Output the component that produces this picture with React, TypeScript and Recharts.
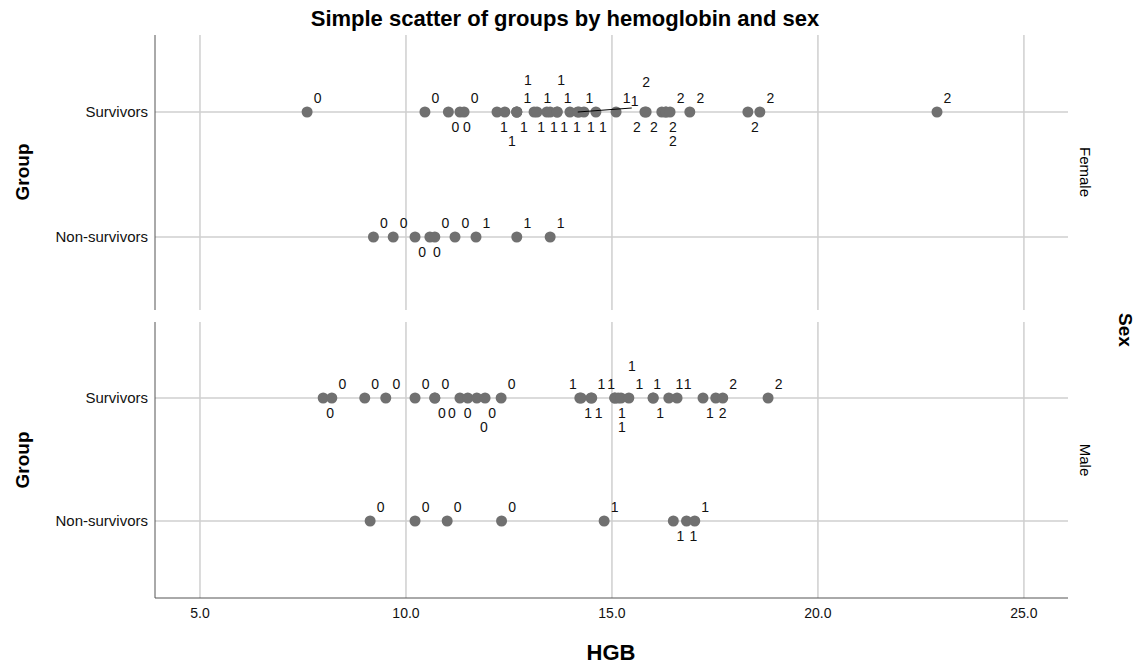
import React from 'react';
import { ScatterChart, Scatter, XAxis, YAxis, CartesianGrid } from 'recharts';

// y categories: 0 = Non-survivors, 1 = Survivors
const groupNames = ['Non-survivors', 'Survivors'];
const hgbTicks = [5, 10, 15, 20, 25];

// Female / Survivors
const femaleSurvivorsHgb = [
    7.6, 10.46, 11.03, 11.31, 11.41,
    12.21, 12.4, 12.69, 12.69, 12.69, 13.11, 13.18, 13.42, 13.5, 13.67, 13.67, 13.98, 14.2, 14.32, 14.61, 15.1, 14.17,
    15.8, 15.83, 16.21, 16.31, 16.31, 16.41, 16.89, 18.3, 18.59, 22.89,
];
const femaleSurvivorsCode = [
    0, 0, 0, 0, 0,
    1, 1, 1, 1, 1, 1, 1, 1, 1, 1, 1, 1, 1, 1, 1, 1, 1,
    2, 2, 2, 2, 2, 2, 2, 2, 2, 2,
];

// Female / Non-survivors
const femaleNonSurvivorsHgb = [9.21, 9.69, 10.22, 10.58, 10.7, 11.19, 11.7, 12.69, 13.5];
const femaleNonSurvivorsCode = [0, 0, 0, 0, 0, 0, 1, 1, 1];

// Male / Survivors
const maleSurvivorsHgb = [
    7.99, 8.2, 9.0, 9.51, 10.22, 10.7, 10.7, 11.31, 11.5, 11.72, 11.92, 12.31,
    14.22, 14.25, 14.49, 14.51, 15.15, 15.07, 15.07, 15.22, 15.41, 16.0, 16.0, 16.38, 16.58, 17.21,
    17.52, 17.69, 18.79,
];
const maleSurvivorsCode = [
    0, 0, 0, 0, 0, 0, 0, 0, 0, 0, 0, 0,
    1, 1, 1, 1, 1, 1, 1, 1, 1, 1, 1, 1, 1, 1,
    2, 2, 2,
];

// Male / Non-survivors
const maleNonSurvivorsHgb = [9.13, 10.22, 11.0, 12.32, 14.81, 16.49, 16.81, 17.01];
const maleNonSurvivorsCode = [0, 0, 0, 0, 1, 1, 1, 1];

// where each point label sits relative to its dot (SPSS label placement)
const femaleSurvivorsSlot = [
    'ne', 'ne', 'se', 'se', 'ne',
    'se', 'se2', 'se', 'ne', 'ne2', 'se', 'ne', 'se', 'ne2', 'se', 'ne', 'se', 'ne', 'se', 'se', 'ne', 'far',
    'sw', 'n2', 'sw', 'se', 'se2', 'ne', 'ne', 'se', 'ne', 'ne',
];
const femaleNonSurvivorsSlot = ['ne', 'ne', 'se', 'se', 'ne', 'ne', 'ne', 'ne', 'ne'];
const maleSurvivorsSlot = [
    'se', 'ne', 'ne', 'ne', 'ne', 'ne', 'se', 'sw', 's', 'se2', 'se', 'ne',
    'nw', 'se', 'ne', 'se', 'nw', 'se', 'se2', 'ne2', 'ne', 'se', 'n', 'ne', 'ne', 'se',
    'se', 'ne', 'ne',
];
const maleNonSurvivorsSlot = ['ne', 'ne', 'ne', 'ne', 'ne', 'se', 'se', 'ne'];

const SLOT_OFFSET: Record<string, [number, number]> = {
    ne: [10.5, -14],
    n: [4, -14],
    nw: [-7, -14],
    se: [7, 15],
    s: [0, 15],
    sw: [-8, 15],
    se2: [7, 29],
    ne2: [11, -32],
    n2: [0, -30],
    far: [57, -11],
};

const FONT = '"Liberation Sans", Arial, sans-serif';
const DOT = '#707070';
const GRID = '#cfcfcf';
const AXIS = '#555';

const rows = (hgb: number[], codes: number[], slots: string[], group: number) =>
    hgb.map((v, i) => ({ hgb: v, group, code: codes[i], slot: slots[i] }));

const femaleData = [
    ...rows(femaleSurvivorsHgb, femaleSurvivorsCode, femaleSurvivorsSlot, 1),
    ...rows(femaleNonSurvivorsHgb, femaleNonSurvivorsCode, femaleNonSurvivorsSlot, 0),
];
const maleData = [
    ...rows(maleSurvivorsHgb, maleSurvivorsCode, maleSurvivorsSlot, 1),
    ...rows(maleNonSurvivorsHgb, maleNonSurvivorsCode, maleNonSurvivorsSlot, 0),
];

const LabeledDot = (props: any) => {
    const { cx, cy, payload } = props;
    if (cx == null || cy == null) return null;
    const [dx, dy] = SLOT_OFFSET[payload.slot] || SLOT_OFFSET.ne;
    return (
        <g>
            <circle cx={cx} cy={cy} r={5.5} fill={DOT} />
            {payload.slot === 'far' && (
                <line x1={cx} y1={cy} x2={cx + dx - 3} y2={cy - 4} stroke="#000" strokeWidth={1} />
            )}
            <text
                x={cx + dx}
                y={cy + dy}
                textAnchor="middle"
                dominantBaseline="central"
                fontSize={14}
                fontFamily={FONT}
                fill="#111"
            >
                {payload.code}
            </text>
        </g>
    );
};

const Panel = ({ data, top, height, margin, yDomain, showX }: any) => (
    <div style={{ position: 'absolute', left: 0, top }}>
        <ScatterChart width={1142} height={height} margin={margin}>
            <CartesianGrid stroke={GRID} strokeWidth={1.5} horizontalValues={[0, 1]} verticalValues={hgbTicks} />
            <XAxis
                type="number"
                dataKey="hgb"
                domain={[3.908, 26.07]}
                allowDataOverflow
                ticks={hgbTicks}
                hide={!showX}
                height={30}
                tickLine={false}
                tickMargin={4}
                axisLine={{ stroke: AXIS }}
                tick={{ fontSize: 14, fill: '#111', fontFamily: FONT }}
                tickFormatter={(v) => v.toFixed(1)}
            />
            <YAxis
                type="number"
                dataKey="group"
                domain={yDomain}
                allowDataOverflow
                ticks={[0, 1]}
                width={155}
                tickLine={false}
                tickMargin={1}
                axisLine={{ stroke: AXIS }}
                tick={{ fontSize: 15, fill: '#111', fontFamily: FONT }}
                tickFormatter={(v) => groupNames[v] ?? ''}
            />
            <Scatter data={data} shape={<LabeledDot />} isAnimationActive={false} />
        </ScatterChart>
    </div>
);

export default function App() {
    return (
        <div style={{ position: 'absolute', left: 0, top: 0, width: 1142, height: 668, background: '#fff' }}>
            <Panel
                data={femaleData}
                top={0}
                height={320}
                margin={{ top: 35, right: 74, bottom: 10, left: 0 }}
                yDomain={[-0.584, 1.616]}
                showX={false}
            />
            <Panel
                data={maleData}
                top={312}
                height={356}
                margin={{ top: 10, right: 74, bottom: 40, left: 0 }}
                yDomain={[-0.626, 1.618]}
                showX
            />
            <svg
                width={1142}
                height={668}
                style={{ position: 'absolute', left: 0, top: 0, pointerEvents: 'none' }}
                fontFamily={FONT}
            >
                <text x={565} y={18} textAnchor="middle" dominantBaseline="central" fontSize={22} fontWeight="bold">
                    Simple scatter of groups by hemoglobin and sex
                </text>
                <text x={611} y={652} textAnchor="middle" dominantBaseline="central" fontSize={22} fontWeight="bold">
                    HGB
                </text>
                <text x={22} y={172} transform="rotate(-90 22 172)" textAnchor="middle" dominantBaseline="central" fontSize={19} fontWeight="bold">
                    Group
                </text>
                <text x={22} y={460} transform="rotate(-90 22 460)" textAnchor="middle" dominantBaseline="central" fontSize={19} fontWeight="bold">
                    Group
                </text>
                <text x={1085} y={172} transform="rotate(90 1085 172)" textAnchor="middle" dominantBaseline="central" fontSize={15}>
                    Female
                </text>
                <text x={1085} y={460} transform="rotate(90 1085 460)" textAnchor="middle" dominantBaseline="central" fontSize={15}>
                    Male
                </text>
                <text x={1125} y={330} transform="rotate(90 1125 330)" textAnchor="middle" dominantBaseline="central" fontSize={19} fontWeight="bold">
                    Sex
                </text>
            </svg>
        </div>
    );
}
